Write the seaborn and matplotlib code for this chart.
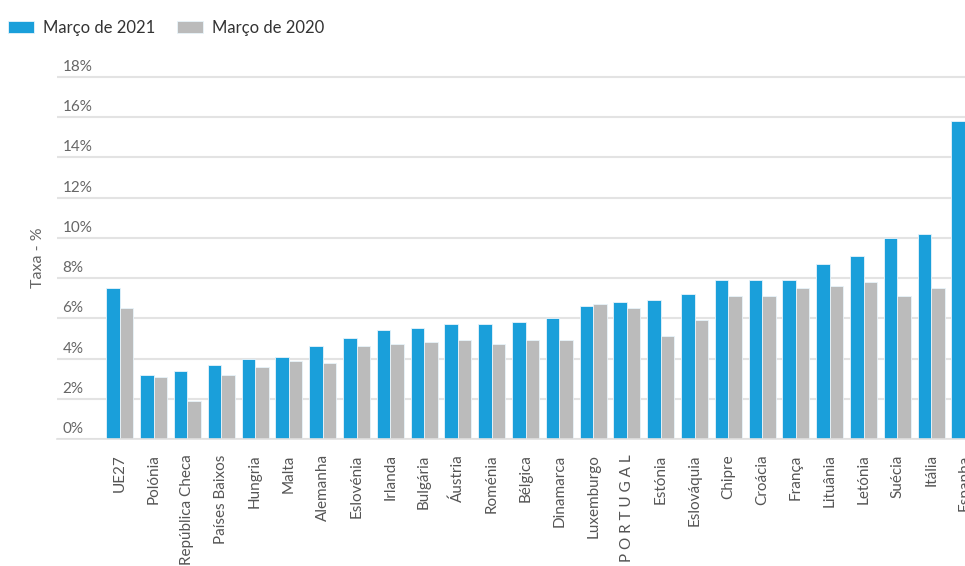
import matplotlib
matplotlib.use("Agg")
import matplotlib.pyplot as plt
import matplotlib.transforms as mtransforms
import numpy as np
import pandas as pd
import seaborn as sns

# taxa de desemprego (%) por país
paises = ["UE27", "Polónia", "República Checa", "Países Baixos", "Hungria", "Malta",
          "Alemanha", "Eslovénia", "Irlanda", "Bulgária", "Áustria", "Roménia", "Bélgica",
          "Dinamarca", "Luxemburgo", "P O R T U G A L", "Estónia", "Eslováquia", "Chipre",
          "Croácia", "França", "Lituânia", "Letónia", "Suécia", "Itália", "Espanha"]
marco_2021 = [7.5, 3.2, 3.4, 3.7, 4.0, 4.1, 4.6, 5.0, 5.4, 5.5, 5.7, 5.7, 5.8,
              6.0, 6.6, 6.8, 6.9, 7.2, 7.9, 7.9, 7.9, 8.7, 9.1, 10.0, 10.2, 15.8]
# Espanha 2020 fica fora da imagem (cortada), por isso sem valor
marco_2020 = [6.5, 3.1, 1.9, 3.2, 3.6, 3.9, 3.8, 4.6, 4.7, 4.8, 4.9, 4.7, 4.9,
              4.9, 6.7, 6.5, 5.1, 5.9, 7.1, 7.1, 7.5, 7.6, 7.8, 7.1, 7.5, np.nan]
series = ["Março de 2021", "Março de 2020"]
y_ticks = [0, 2, 4, 6, 8, 10, 12, 14, 16, 18]

df = pd.DataFrame({
    "pais": paises * 2,
    "taxa": marco_2021 + marco_2020,
    "periodo": [series[0]] * len(paises) + [series[1]] * len(paises),
})

sns.set_style("white")
plt.rcParams["font.family"] = ["Lato", "DejaVu Sans"]

W, H = 965, 566
fig = plt.figure(figsize=(W / 100, H / 100), dpi=100)
# eixo: esquerda em 57px, base em 439px, 20.11 px por ponto percentual
ymax = 18.2
px_per = 20.11
top_px = 439 - ymax * px_per
ax = fig.add_axes([57 / W, 1 - 439 / H, 1 - 57 / W, (439 - top_px) / H])

sns.barplot(data=df, x="pais", y="taxa", hue="periodo", hue_order=series,
            palette=["#1a9fda", "#bbbbbb"], saturation=1, width=0.8, ax=ax,
            edgecolor="#e8f4fb", linewidth=0.6, legend=True)

ax.set_xlim(-1.86, 25.0)
ax.set_ylim(0, ymax)
ax.set_yticks(y_ticks)
ax.set_yticklabels([f"{t}%" for t in y_ticks])
ax.yaxis.grid(True, color="#e3e3e3", linewidth=1.5)
ax.set_axisbelow(True)
for s in ["top", "right", "left"]:
    ax.spines[s].set_visible(False)
ax.spines["bottom"].set_color("#e0e0e0")
ax.spines["bottom"].set_linewidth(1.2)

ax.tick_params(axis="y", length=0, pad=-4, labelsize=11, labelcolor="#666666")
offset = mtransforms.ScaledTranslation(0, 3 / 100, fig.dpi_scale_trans)
for lbl in ax.get_yticklabels():
    lbl.set_ha("left")
    lbl.set_va("bottom")
    lbl.set_transform(lbl.get_transform() + offset)

ax.tick_params(axis="x", length=7, width=1, color="#e0e0e0", pad=4,
               labelsize=11, labelcolor="#555555", labelrotation=90)
for lbl in ax.get_xticklabels():
    lbl.set_va("top")
    lbl.set_ha("center")

ax.set_xlabel("")
ax.set_ylabel("Taxa - %", fontsize=11.5, color="#666666")
ax.yaxis.set_label_coords(-12 / (W - 57), (439 - 258) / (439 - top_px))

handles, labels = ax.get_legend_handles_labels()
ax.get_legend().remove()
fig.legend(handles, labels, loc="upper left", bbox_to_anchor=(1 / W, 1 - 13 / H),
           ncol=2, frameon=False, borderaxespad=0, fontsize=12,
           handlelength=1.6, handleheight=0.75, handletextpad=0.5,
           columnspacing=1.3, labelcolor="#333333")

fig.savefig("out.png", dpi=100)
